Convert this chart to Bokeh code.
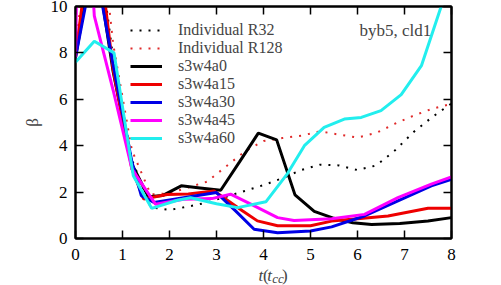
from bokeh.plotting import figure
from bokeh.models import Range1d, FixedTicker, LinearAxis, Label, Legend
from bokeh.layouts import column
from bokeh.embed import file_html
from bokeh.resources import INLINE

# ---- data ----
t_grid = [0, 0.4, 0.8, 1.2, 1.6, 2.0, 2.4, 2.8, 3.2, 3.6, 4.0, 4.4, 4.8, 5.2, 5.6, 6.0, 6.4, 6.8, 7.2, 7.6, 8.0]
r32_y = [7.8, 14, 7.8, 3.4, 1.35, 1.23, 1.38, 1.55, 1.8, 2.05, 2.3, 2.6, 2.95, 3.18, 3.15, 2.95, 3.15, 3.8, 4.6, 5.25, 5.82]
r128_y = [8.0, 16, 8.4, 3.8, 1.9, 1.95, 2.2, 2.45, 3.1, 3.75, 4.2, 4.33, 4.43, 4.62, 4.48, 4.35, 4.55, 4.95, 5.3, 5.6, 5.8]

a0_t = [0, 0.4, 0.8, 1.2, 1.55, 1.85, 2.25, 2.65, 3.09, 3.49, 3.89, 4.28, 4.67, 5.08, 5.5, 5.9, 6.3, 6.9, 7.5, 8.0]
a0_y = [7.8, 12.5, 7.2, 3.2, 1.8, 1.85, 2.27, 2.18, 2.08, 3.3, 4.54, 4.25, 1.88, 1.17, 0.87, 0.68, 0.6, 0.65, 0.75, 0.9]

a15_t = [0, 0.4, 0.8, 1.2, 1.45, 1.95, 2.4, 2.95, 3.55, 3.87, 4.3, 5.0, 5.45, 6.0, 6.65, 7.5, 8.0]
a15_y = [7.9, 14.0, 7.3, 3.0, 1.7, 1.9, 1.92, 2.05, 1.2, 0.76, 0.55, 0.55, 0.75, 0.85, 0.97, 1.3, 1.3]

a30_t = [0, 0.4, 0.8, 1.2, 1.4, 1.67, 2.3, 3.0, 3.4, 3.8, 4.3, 5.0, 5.45, 6.15, 6.86, 7.57, 8.0]
a30_y = [7.8, 12.0, 7.5, 3.3, 1.85, 1.55, 1.76, 1.98, 1.2, 0.4, 0.25, 0.32, 0.5, 0.97, 1.62, 2.27, 2.55]

a45_t = [0, 0.1, 0.4, 0.8, 1.2, 1.7, 2.3, 2.9, 3.3, 3.73, 4.3, 4.65, 5.45, 6.15, 6.86, 7.57, 8.0]
a45_y = [7.8, 20, 9.6, 6.4, 3.0, 1.48, 1.69, 1.72, 1.91, 1.48, 0.9, 0.78, 0.85, 1.04, 1.76, 2.34, 2.66]

a60_t = [0, 0.4, 0.82, 1.23, 1.62, 2.17, 2.45, 3.0, 3.45, 4.05, 4.51, 4.87, 5.29, 5.72, 6.08, 6.5, 6.93, 7.36, 7.78, 8.2]
a60_y = [7.6, 8.5, 8.0, 2.7, 1.3, 1.65, 1.76, 1.5, 1.33, 1.58, 2.8, 4.0, 4.79, 5.15, 5.22, 5.51, 6.2, 7.45, 10.0, 12.7]

x_ticks = [0, 1, 2, 3, 4, 5, 6, 7, 8]
y_ticks = [0, 2, 4, 6, 8, 10]

FONT = "serif"
FS = "17px"

p = figure(width=501, height=267, output_backend="svg", toolbar_location=None,
           x_range=Range1d(0, 8), y_range=Range1d(0, 10),
           min_border_left=75, min_border_right=50, min_border_top=6, min_border_bottom=29)
p.grid.visible = False
p.outline_line_color = "black"
p.outline_line_width = 2
p.background_fill_color = "white"
p.border_fill_color = "white"

for ax in (p.xaxis[0], p.yaxis[0]):
    ax.major_tick_in = 8
    ax.major_tick_out = 0
    ax.minor_tick_in = 0
    ax.minor_tick_out = 0
    ax.axis_line_width = 2
    ax.major_tick_line_width = 1.5
    ax.major_label_text_font = FONT
    ax.major_label_text_font_size = FS
    ax.major_label_text_color = "black"
p.xaxis[0].ticker = FixedTicker(ticks=x_ticks)
p.yaxis[0].ticker = FixedTicker(ticks=y_ticks)
p.xaxis[0].major_label_standoff = 10
p.yaxis[0].major_label_standoff = 8
p.yaxis[0].axis_label = "β"
p.yaxis[0].axis_label_text_font = FONT
p.yaxis[0].axis_label_text_font_style = "normal"
p.yaxis[0].axis_label_text_font_size = FS
p.yaxis[0].axis_label_standoff = 6

top = LinearAxis(ticker=FixedTicker(ticks=x_ticks), major_label_text_color=None,
                 major_tick_in=8, major_tick_out=0, minor_tick_in=0, minor_tick_out=0,
                 axis_line_width=2, major_tick_line_width=1.5)
right = LinearAxis(ticker=FixedTicker(ticks=y_ticks), major_label_text_color=None,
                   major_tick_in=8, major_tick_out=0, minor_tick_in=0, minor_tick_out=0,
                   axis_line_width=2, major_tick_line_width=1.5)
top.major_label_text_font_size = "0px"
right.major_label_text_font_size = "0px"
p.add_layout(top, "above")
p.add_layout(right, "right")

r1 = p.line(t_grid, r32_y, line_color="black", line_width=2, line_dash="2 7")
r2 = p.line(t_grid, r128_y, line_color="#e02a2a", line_width=2, line_dash="2 7")
r3 = p.line(a0_t, a0_y, line_color="black", line_width=3)
r4 = p.line(a15_t, a15_y, line_color="#ee0000", line_width=3)
r5 = p.line(a30_t, a30_y, line_color="#0000e6", line_width=3)
r6 = p.line(a45_t, a45_y, line_color="#ff00ff", line_width=3)
r7 = p.line(a60_t, a60_y, line_color="#22eeee", line_width=3)

legend = Legend(items=[("Individual R32", [r1]), ("Individual R128", [r2]),
                       ("s3w4a0", [r3]), ("s3w4a15", [r4]), ("s3w4a30", [r5]),
                       ("s3w4a45", [r6]), ("s3w4a60", [r7])],
                location=(55, 91), padding=0, margin=0, spacing=0,
                glyph_width=32, glyph_height=18, label_height=18,
                label_standoff=16, label_text_font=FONT, label_text_font_size="16px",
                border_line_color=None, background_fill_alpha=0)
p.add_layout(legend, "center")

p.add_layout(Label(x=7.57, y=8.96, text="byb5, cld1", text_align="right",
                   text_baseline="middle", text_font=FONT, text_font_size=FS))

# ---- x-axis label strip: t(t_cc), pixel coordinates ----
lab = figure(width=501, height=18, output_backend="svg", toolbar_location=None,
             x_range=Range1d(0, 501), y_range=Range1d(0, 18),
             x_axis_type=None, y_axis_type=None, min_border=0,
             min_border_left=0, min_border_right=0, min_border_top=0, min_border_bottom=0)
lab.grid.visible = False
lab.outline_line_color = None
lab.background_fill_color = "white"
lab.border_fill_color = "white"

parts = [("t", 244, 10, "italic", FS), ("(", 250, 10, "normal", FS), ("t", 255.5, 10, "italic", FS),
         ("cc", 262, 7.5, "italic", "13px"), (")", 275, 10, "normal", FS)]
for txt, px, py, style, size in parts:
    lab.add_layout(Label(x=px, y=py, text=txt, text_font=FONT, text_font_style=style,
                         text_font_size=size, text_baseline="alphabetic", text_align="left"))

open("out.html", "w").write(file_html(column(p, lab, spacing=0), INLINE))
